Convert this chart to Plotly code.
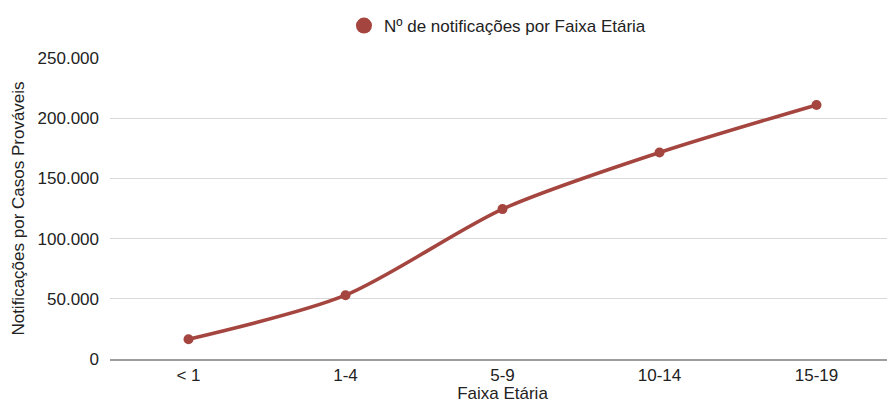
import plotly.graph_objects as go

categories = ["< 1", "1-4", "5-9", "10-14", "15-19"]
values = [16400, 53000, 124500, 171500, 211000]
series_name = "Nº de notificações por Faixa Etária"
y_ticks = [0, 50000, 100000, 150000, 200000, 250000]
y_tick_labels = ["0", "50.000", "100.000", "150.000", "200.000", "250.000"]

color = "#a5453f"
font = "Liberation Sans, Arial, sans-serif"
fs = 17

fig = go.Figure()
fig.add_trace(go.Scatter(
    x=categories, y=values, mode="lines+markers",
    line=dict(color=color, width=3.5, shape="spline", smoothing=0.8),
    marker=dict(color=color, size=10),
    showlegend=False, name=series_name,
))
fig.add_trace(go.Scatter(
    x=[None], y=[None], mode="markers",
    marker=dict(color=color, size=16),
    name=series_name, showlegend=True,
))

# page body has an 8px default margin, so the figure is sized to fill the rest of the window
fig.update_layout(
    width=887, height=395,
    margin=dict(l=102, r=0, t=50, b=44, autoexpand=False),
    paper_bgcolor="white", plot_bgcolor="white",
    font=dict(family=font, size=fs, color="#222"),
    separators=",.",
    legend=dict(orientation="h", x=0.4936, xanchor="center", y=1.0, yref="container", yanchor="top",
                font=dict(size=fs, color="#222"), itemsizing="trace", itemwidth=30),
    xaxis=dict(
        type="category", range=[-0.5, len(categories) - 0.5],
        showgrid=False, showline=True, linecolor="#9e9e9e", linewidth=2,
        ticks="", tickfont=dict(size=fs, color="#222"), automargin=False,
        title=dict(text="Faixa Etária", font=dict(size=fs, color="#222"), standoff=2),
        fixedrange=True,
    ),
    yaxis=dict(
        range=[0, 250000], tickvals=y_ticks, ticktext=y_tick_labels, automargin=False,
        showgrid=True, gridcolor="#d9d9d9", gridwidth=1, zeroline=False, showline=False,
        ticks="", ticklabelstandoff=10, tickfont=dict(size=fs, color="#222"),
        title=dict(text="Notificações por Casos Prováveis", font=dict(size=fs, color="#222"), standoff=8),
    ),
)

fig.write_html("out.html")
